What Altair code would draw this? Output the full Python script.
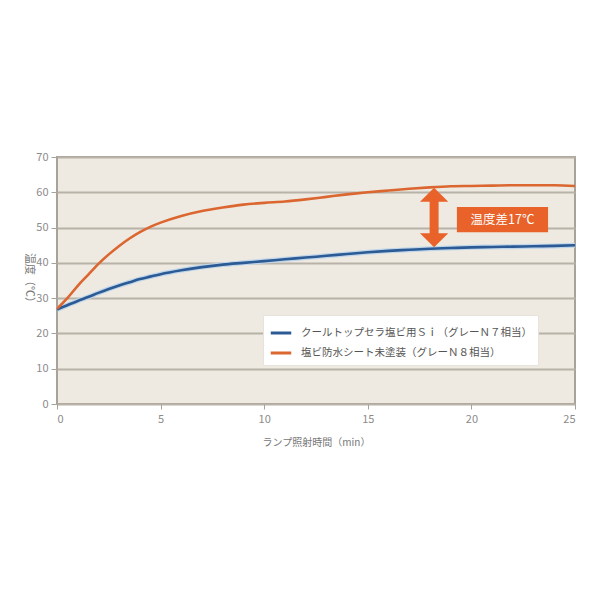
import altair as alt
import pandas as pd

# ---- data ----
times = [0, 0.5, 1, 1.5, 2, 2.5, 3, 3.5, 4, 4.5, 5, 6, 7, 8, 9, 10, 11, 12, 13,
         14, 15, 16, 17, 18, 19, 20, 21, 22, 23, 24, 25]
blue_vals = [26.8, 28.0, 29.2, 30.3, 31.5, 32.6, 33.6, 34.5, 35.4, 36.1, 36.8,
             37.9, 38.8, 39.5, 40.0, 40.5, 41.0, 41.5, 42.0, 42.5, 43.0, 43.4,
             43.7, 44.0, 44.2, 44.4, 44.5, 44.6, 44.7, 44.8, 45.0]
orange_vals = [27.0, 30.0, 33.5, 36.6, 39.7, 42.4, 44.8, 46.9, 48.7, 50.2, 51.4,
               53.3, 54.7, 55.7, 56.5, 57.0, 57.4, 58.0, 58.7, 59.4, 60.0, 60.5,
               61.0, 61.4, 61.7, 61.8, 61.9, 62.0, 62.0, 62.0, 61.8]
series_names = ["クールトップセラ塩ビ用Ｓｉ（グレーＮ７相当）",
                "塩ビ防水シート未塗装（グレーＮ８相当）"]
series_colors = ["#2B5A94", "#DB6630"]

y_ticks = [0, 10, 20, 30, 40, 50, 60, 70]
x_ticks = [0, 5, 10, 15, 20, 25]

# annotation (temperature difference arrow + label)
arrow_x = [18.2]
arrow_head_y = [59.3, 46.4]
label_box_x = [19.3, 23.7]
label_box_y = [48.7, 55.8]
label_text = ["温度差17℃"]

FONT = "Noto Sans CJK JP"

rows = []
for t, v in zip(times, blue_vals):
    rows.append({"t": t, "v": v, "s": series_names[0]})
for t, v in zip(times, orange_vals):
    rows.append({"t": t, "v": v, "s": series_names[1]})
df = pd.DataFrame(rows)

xscale = alt.Scale(domain=[0, 25], nice=False, zero=False)
yscale = alt.Scale(domain=[0, 70], nice=False)

x_axis = alt.Axis(values=x_ticks, grid=False, title="ランプ照射時間（min）",
                  labelColor="#8C8C8C", labelFontSize=11, labelFont=FONT,
                  titleColor="#777777", titleFontSize=10, titleFont=FONT,
                  titleFontWeight="normal", titleY=33, labelOverlap=False,
                  tickColor="#A8A39A", tickSize=5, domain=False, labelPadding=4)
y_axis = alt.Axis(values=y_ticks, grid=True, gridColor="#B8B2A8", gridWidth=2,
                  title="温度（℃）", titleAngle=90, titleX=-29, titleY=123,
                  titleAlign="center", titleBaseline="middle", labelOverlap=False,
                  labelColor="#8C8C8C", labelFontSize=11, labelFont=FONT,
                  titleColor="#777777", titleFontSize=11, titleFont=FONT,
                  titleFontWeight="normal",
                  tickColor="#A8A39A", tickSize=6, domain=False, labelPadding=3)


def X(field):
    return alt.X(field, scale=xscale, axis=x_axis)


def Y(field):
    return alt.Y(field, scale=yscale, axis=y_axis)


halo = alt.Chart(df[df["s"] == series_names[0]]).mark_line(
    strokeWidth=5, color="#BFD6EA", interpolate="monotone"
).encode(x=X("t:Q"), y=Y("v:Q"))

lines = alt.Chart(df).mark_line(strokeWidth=2.6, interpolate="monotone").encode(
    x=X("t:Q"),
    y=Y("v:Q"),
    color=alt.Color("s:N", scale=alt.Scale(domain=series_names, range=series_colors),
                    sort=series_names,
                    legend=alt.Legend(title=None, orient="none", legendX=206, legendY=158,
                                      symbolType="stroke", symbolStrokeWidth=3,
                                      symbolSize=420, labelFontSize=10.5, labelFont=FONT,
                                      labelColor="#555555", labelLimit=400,
                                      labelOffset=8,
                                      fillColor="white", padding=6, rowPadding=2,
                                      strokeColor="#E6E3DC")),
)

shaft = alt.Chart(pd.DataFrame({"x": arrow_x, "y1": [arrow_head_y[0]],
                                "y2": [arrow_head_y[1]]})).mark_rule(
    color="#E8622A", strokeWidth=9
).encode(x=X("x:Q"), y=Y("y1:Q"), y2="y2:Q")

head_up = alt.Chart(pd.DataFrame({"x": arrow_x, "y": [arrow_head_y[0]]})).mark_point(
    shape="M-1,0.5L1,0.5L0,-0.5Z", size=800, filled=True, color="#E8622A", opacity=1
).encode(x=X("x:Q"), y=Y("y:Q"))

head_down = alt.Chart(pd.DataFrame({"x": arrow_x, "y": [arrow_head_y[1]]})).mark_point(
    shape="M-1,-0.5L1,-0.5L0,0.5Z", size=800, filled=True, color="#E8622A", opacity=1
).encode(x=X("x:Q"), y=Y("y:Q"))

box = alt.Chart(pd.DataFrame({"x1": [label_box_x[0]], "x2": [label_box_x[1]],
                              "y1": [label_box_y[0]], "y2": [label_box_y[1]]})).mark_rect(
    color="#E8622A"
).encode(x=X("x1:Q"), x2="x2:Q", y=Y("y1:Q"), y2="y2:Q")

label = alt.Chart(pd.DataFrame({"x": [sum(label_box_x) / 2], "y": [sum(label_box_y) / 2],
                                "t": label_text})).mark_text(
    color="white", fontSize=12.5, font=FONT, align="center", baseline="middle"
).encode(x=X("x:Q"), y=Y("y:Q"), text="t:N")

chart = alt.layer(halo, lines, shaft, head_up, head_down, box, label).properties(
    width=518, height=247,
    autosize=alt.AutoSizeParams(type="none"),
    padding={"left": 49, "top": 149, "right": 17, "bottom": 188},
    background="white",
).configure_view(fill="#EEEAE1", stroke="#A8A39A", strokeWidth=2)

chart.save("out.html", embed_options={"renderer": "svg", "actions": False})
